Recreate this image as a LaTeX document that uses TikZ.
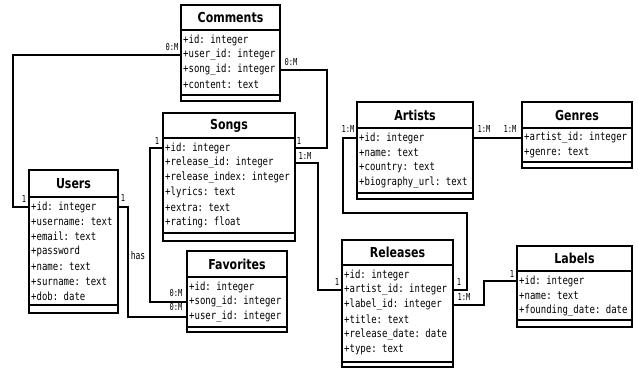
\documentclass[tikz,border=0pt]{standalone}
\usepackage{fontspec}
\setmainfont{DejaVu Sans}
\setmonofont{DejaVu Sans Mono}
\newcommand\vs[1]{\scalebox{1}[1.25]{#1}}
\newcommand\vc[1]{\scalebox{1}[1.35]{#1}}
\newcommand\titlefont{\fontsize{11bp}{13bp}\selectfont\bfseries}
\newcommand\rowfont{\ttfamily\fontsize{9bp}{11bp}\selectfont}
\newcommand\cardfont{\ttfamily\fontsize{7.1bp}{8.5bp}\selectfont}
\tikzset{
  classbox/.style={draw, line width=2.2bp, inner sep=0pt, outer sep=0pt, fill=white},
  sepline/.style={line width=2bp},
  conn/.style={line width=1.6bp},
  titletext/.style={inner sep=0pt, font=\titlefont},
  rowtext/.style={inner sep=0pt, anchor=west, font=\rowfont},
  cardtext/.style={inner sep=0pt, font=\cardfont},
}
% name, left, top, right, bottom, title sep, strip, title, rows
\newcommand\umlclass[9]{%
  \node[classbox, anchor=north west, minimum width={(#4-#2)*1bp}, minimum height={(#5-#3)*1bp}] (#1) at (#2,#3) {};
  \draw[sepline] (#2,#6) -- (#4,#6);
  \draw[sepline] (#2,#7) -- (#4,#7);
  \node[titletext] (#1-title) at ({(#2+#4)/2},{(#3+#6)/2}) {\vs{#8}};
  \foreach \r [count=\i] in {#9} {\node[rowtext] (#1-\i) at ({#2+2},{#6+10+14.85*(\i-1)}) {\vs{\r}};}
}
\begin{document}
\begin{tikzpicture}[x=1bp, y=-1bp]
\useasboundingbox (0,0) rectangle (638,371);

\umlclass{comments}{181}{5}{280}{101}{30}{95}{Comments}{+id: integer,+user\_id: integer,+song\_id: integer,+content: text}
\umlclass{songs}{163}{113}{295}{241}{138}{233}{Songs}{+id: integer,+release\_id: integer,+release\_index: integer,+lyrics: text,+extra: text,+rating: float}
\umlclass{users}{29}{170}{118}{313}{197}{305}{Users}{+id: integer,+username: text,+email: text,+password,+name: text,+surname: text,+dob: date}
\umlclass{favorites}{187}{251}{287}{332}{277}{327}{Favorites}{+id: integer,+song\_id: integer,+user\_id: integer}
\umlclass{artists}{357}{102}{473}{199}{128}{193}{Artists}{+id: integer,+name: text,+country: text,+biography\_url: text}
\umlclass{genres}{522}{102}{632}{168}{128}{162}{Genres}{+artist\_id: integer,+genre: text}
\umlclass{releases}{342}{240}{453}{367}{265}{362}{Releases}{+id: integer,+artist\_id: integer,+label\_id: integer,+title: text,+release\_date: date,+type: text}
\umlclass{labels}{517}{246}{632}{327}{271}{320}{Labels}{+id: integer,+name: text,+founding\_date: date}

\coordinate (k1) at (13,0);
\coordinate (k2) at (327,0);
\coordinate (k3) at (318,0);
\coordinate (k4a) at (343,213);
\coordinate (k4b) at (467,0);
\coordinate (k5) at (484,0);
\coordinate (k7) at (128,0);
\coordinate (k8) at (150,0);

% Comments - Users
\draw[conn] (comments.west |- comments-2) -| (k1 |- users-1) -- (users.west |- users-1);
% Comments - Songs
\draw[conn] (comments.east |- comments-3) -| (k2 |- songs-1) -- (songs.east |- songs-1);
% Songs - Releases
\draw[conn] (songs.east |- songs-2) -| (k3 |- releases-2) -- (releases.west |- releases-2);
% Artists - Releases
\draw[conn] (artists.west |- artists-1) -| (k4a) -| (k4b |- releases-2) -- (releases.east |- releases-2);
% Releases - Labels
\draw[conn] (releases.east |- releases-3) -| (k5 |- labels-1) -- (labels.west |- labels-1);
% Artists - Genres
\draw[conn] (artists.east |- artists-1) -- (genres.west |- genres-1);
% Users - Favorites
\draw[conn] (users.east |- users-1) -| (k7 |- favorites-3) -- (favorites.west |- favorites-3);
% Songs - Favorites
\draw[conn] (songs.west |- songs-1) -| (k8 |- favorites-2) -- (favorites.west |- favorites-2);

% cardinalities
\node[cardtext] (c1a) at (172,47) {\vc{0:M}};
\node[cardtext] (c1b) at (24,199) {\vc{1}};
\node[cardtext] (c2a) at (291,62) {\vc{0:M}};
\node[cardtext] (c2b) at (299,141) {\vc{1}};
\node[cardtext] (c3a) at (305,156) {\vc{1:M}};
\node[cardtext] (c3b) at (337,282) {\vc{1}};
\node[cardtext] (c4a) at (348,129) {\vc{1:M}};
\node[cardtext] (c4b) at (459,282) {\vc{1}};
\node[cardtext] (c5a) at (464,297) {\vc{1:M}};
\node[cardtext] (c5b) at (512,274) {\vc{1}};
\node[cardtext] (c6a) at (484,129) {\vc{1:M}};
\node[cardtext] (c6b) at (510,129) {\vc{1:M}};
\node[cardtext] (c7a) at (123,198) {\vc{1}};
\node[cardtext, font=\ttfamily\fontsize{8bp}{9.5bp}\selectfont] (c7b) at (138,255) {\vc{has}};
\node[cardtext] (c7c) at (176,307) {\vc{0:M}};
\node[cardtext] (c8a) at (157,141) {\vc{1}};
\node[cardtext] (c8b) at (176,293) {\vc{0:M}};
\end{tikzpicture}
\end{document}
